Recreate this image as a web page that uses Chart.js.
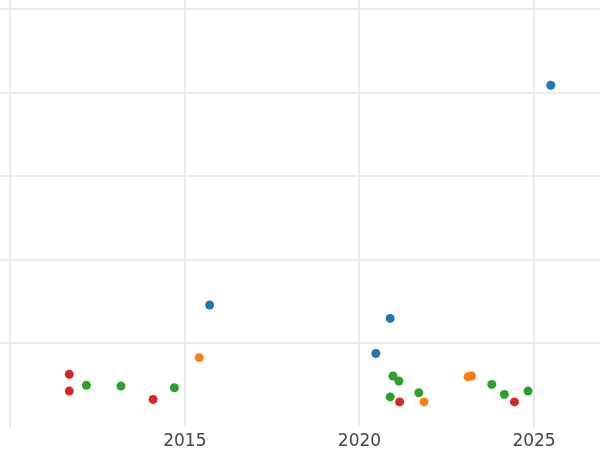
<!DOCTYPE html>
<html>
<head>
<meta charset="utf-8">
<script src="https://cdn.jsdelivr.net/npm/chart.js@4/dist/chart.umd.min.js"></script>
<style>
  html, body { margin: 0; padding: 0; background: #fff; }
  #wrap { width: 600px; height: 450px; }
</style>
</head>
<body>
<div id="wrap"><canvas id="chart"></canvas></div>
<script>
// values (x = year, y = value in grid units)
const blueX = [2025.48, 2015.71, 2020.88, 2020.47];
const blueY = [4.09, 1.46, 1.30, 0.88];
const orangeX = [2015.41, 2023.11, 2023.21, 2021.85];
const orangeY = [0.83, 0.60, 0.61, 0.30];
const greenX = [2012.18, 2013.17, 2014.70, 2020.96, 2021.13, 2020.88, 2021.70, 2023.79, 2024.15, 2024.83];
const greenY = [0.50, 0.49, 0.47, 0.61, 0.55, 0.36, 0.41, 0.51, 0.39, 0.43];
const redX = [2011.69, 2011.69, 2014.09, 2021.15, 2024.44];
const redY = [0.63, 0.43, 0.33, 0.30, 0.30];

const xTicks = [2010, 2015, 2020, 2025];
const xTickLabels = ['', '2015', '2020', '2025'];
const yTicks = [1, 2, 3, 4, 5];

const toPoints = (xs, ys) => xs.map((x, i) => ({ x, y: ys[i] }));

const series = [
  { data: toPoints(blueX, blueY), color: '#1f77b4' },
  { data: toPoints(orangeX, orangeY), color: '#ff7f0e' },
  { data: toPoints(greenX, greenY), color: '#2ca02c' },
  { data: toPoints(redX, redY), color: '#d62728' }
];

const gridColor = '#ebebeb';

new Chart(document.getElementById('chart'), {
  type: 'scatter',
  data: {
    datasets: series.map(s => ({
      data: s.data,
      backgroundColor: s.color,
      borderWidth: 0,
      pointRadius: 4.5,
      pointHoverRadius: 4.5
    }))
  },
  options: {
    responsive: true,
    maintainAspectRatio: false,
    animation: false,
    layout: { padding: 0, autoPadding: false },
    plugins: {
      legend: { display: false },
      tooltip: { enabled: false }
    },
    scales: {
      x: {
        type: 'linear',
        min: 2009.705,
        max: 2026.89,
        afterBuildTicks: s => { s.ticks = xTicks.map(v => ({ value: v })); },
        afterFit: s => { s.height = 23; },
        border: { display: false },
        grid: { color: gridColor, lineWidth: 2, drawTicks: false },
        ticks: {
          padding: 4,
          autoSkip: false,
          maxRotation: 0,
          color: '#444',
          font: { family: 'DejaVu Sans', size: 17 },
          callback: (v) => xTickLabels[xTicks.indexOf(v)] ?? ''
        }
      },
      y: {
        min: 0,
        max: 5.111,
        afterBuildTicks: s => { s.ticks = yTicks.map(v => ({ value: v })); },
        afterFit: s => { s.width = 0; },
        border: { display: false },
        grid: { color: gridColor, lineWidth: 2, drawTicks: false },
        ticks: { display: false }
      }
    }
  }
});
</script>
</body>
</html>
